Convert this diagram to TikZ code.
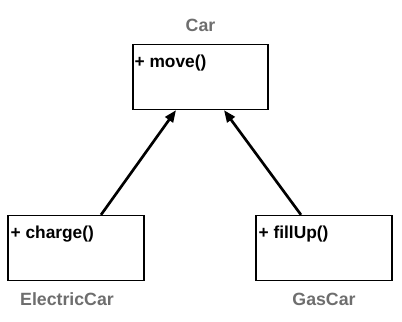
\documentclass[tikz,border=0pt]{standalone}
\usepackage{fontspec}
\setmainfont{Liberation Sans}
\usetikzlibrary{calc,arrows.meta}
\definecolor{lblgray}{HTML}{6E6E6E}
\tikzset{
  classbox/.style={draw=black, line width=1pt, minimum width=#1*0.75pt, minimum height=65*0.75pt, inner sep=0pt},
  method/.style={anchor=north west, inner sep=0pt, font=\bfseries\fontsize{13pt}{15pt}\selectfont, text=black},
  classname/.style={font=\bfseries\fontsize{13.3pt}{15pt}\selectfont, text=lblgray},
  inherit/.style={line width=2pt, -{Triangle[length=9pt,width=7pt]}}
}
\begin{document}
\begin{tikzpicture}[x=0.75pt,y=-0.75pt]
\useasboundingbox (0,0) rectangle (402,321);
\node[classbox=135] (car) at (200.5,77) {};
\node[classbox=136] (ec) at (76,248) {};
\node[classbox=136] (gc) at (324,248) {};
\node[classname] (carl) at (200.5,25) {Car};
\node[classname] (ecl) at (67,299) {ElectricCar};
\node[classname] (gcl) at (324,299) {GasCar};
\node[method] (carm) at ($(car.north west)+(2,11)$) {+ move()};
\node[method] (ecm) at ($(ec.north west)+(3,11)$) {+ charge()};
\node[method] (gcm) at ($(gc.north west)+(3,11)$) {+ fillUp()};
\coordinate (ecs) at ($(ec.north)+(25,0)$);
\coordinate (gcs) at ($(gc.north)+(-23,0)$);
\coordinate (ct1) at ($(car.south)+(-24.5,0)$);
\coordinate (ct2) at ($(car.south)+(23.5,0)$);
\draw[inherit] (ecs) -- (ct1);
\draw[inherit] (gcs) -- (ct2);
\end{tikzpicture}
\end{document}
